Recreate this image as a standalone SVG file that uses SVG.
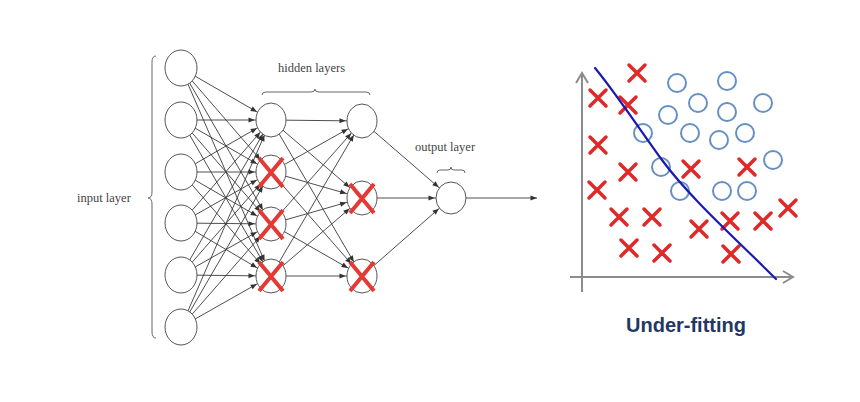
<svg xmlns="http://www.w3.org/2000/svg" width="860" height="402" viewBox="0 0 860 402">
<defs>
<marker id="ah" markerUnits="userSpaceOnUse" markerWidth="10" markerHeight="10" refX="0" refY="0" orient="auto" overflow="visible">
<path d="M-22.5,-2.6 L-16.3,0 L-22.5,2.6 Z" fill="#333"/>
</marker>
<marker id="ah0" markerUnits="userSpaceOnUse" markerWidth="10" markerHeight="10" refX="0" refY="0" orient="auto" overflow="visible">
<path d="M-6.5,-2.6 L0,0 L-6.5,2.6 Z" fill="#333"/>
</marker>
</defs>
<style>
.ln{stroke:#3a3a3a;stroke-width:0.9;fill:none;marker-end:url(#ah)}
.nd{fill:#fff;stroke:#555;stroke-width:1}
.x{stroke:#e53935;stroke-width:4;stroke-linecap:butt}
.lbl{font-family:"Liberation Serif",serif;font-size:12.5px;fill:#444}
.br{fill:none;stroke:#666;stroke-width:1}
.ax{stroke:#8c8c8c;stroke-width:2;fill:none}
.o{fill:none;stroke:#6690c4;stroke-width:2}
.rx{stroke:#e02828;stroke-width:3.5;stroke-linecap:round}
</style>
<rect width="860" height="402" fill="#fff"/>
<g id="connectors">
<!-- input to hidden1 -->
<line class="ln" x1="181" y1="68" x2="271" y2="120"/>
<line class="ln" x1="181" y1="68" x2="271" y2="172"/>
<line class="ln" x1="181" y1="68" x2="271" y2="224"/>
<line class="ln" x1="181" y1="68" x2="271" y2="276"/>
<line class="ln" x1="181" y1="120" x2="271" y2="120"/>
<line class="ln" x1="181" y1="120" x2="271" y2="172"/>
<line class="ln" x1="181" y1="120" x2="271" y2="224"/>
<line class="ln" x1="181" y1="120" x2="271" y2="276"/>
<line class="ln" x1="181" y1="172" x2="271" y2="120"/>
<line class="ln" x1="181" y1="172" x2="271" y2="172"/>
<line class="ln" x1="181" y1="172" x2="271" y2="224"/>
<line class="ln" x1="181" y1="172" x2="271" y2="276"/>
<line class="ln" x1="181" y1="223" x2="271" y2="120"/>
<line class="ln" x1="181" y1="223" x2="271" y2="172"/>
<line class="ln" x1="181" y1="223" x2="271" y2="224"/>
<line class="ln" x1="181" y1="223" x2="271" y2="276"/>
<line class="ln" x1="181" y1="275" x2="271" y2="120"/>
<line class="ln" x1="181" y1="275" x2="271" y2="172"/>
<line class="ln" x1="181" y1="275" x2="271" y2="224"/>
<line class="ln" x1="181" y1="275" x2="271" y2="276"/>
<line class="ln" x1="181" y1="327" x2="271" y2="120"/>
<line class="ln" x1="181" y1="327" x2="271" y2="172"/>
<line class="ln" x1="181" y1="327" x2="271" y2="224"/>
<line class="ln" x1="181" y1="327" x2="271" y2="276"/>
<!-- hidden1 to hidden2 -->
<line class="ln" x1="271" y1="120" x2="362" y2="121"/>
<line class="ln" x1="271" y1="120" x2="362" y2="198"/>
<line class="ln" x1="271" y1="120" x2="362" y2="276"/>
<line class="ln" x1="271" y1="172" x2="362" y2="121"/>
<line class="ln" x1="271" y1="172" x2="362" y2="198"/>
<line class="ln" x1="271" y1="172" x2="362" y2="276"/>
<line class="ln" x1="271" y1="224" x2="362" y2="121"/>
<line class="ln" x1="271" y1="224" x2="362" y2="198"/>
<line class="ln" x1="271" y1="224" x2="362" y2="276"/>
<line class="ln" x1="271" y1="276" x2="362" y2="121"/>
<line class="ln" x1="271" y1="276" x2="362" y2="198"/>
<line class="ln" x1="271" y1="276" x2="362" y2="276"/>
<!-- hidden2 to output -->
<line class="ln" x1="362" y1="121" x2="451" y2="198"/>
<line class="ln" x1="362" y1="198" x2="451" y2="198"/>
<line class="ln" x1="362" y1="276" x2="451" y2="198"/>
<!-- output arrow -->
<line x1="466" y1="198" x2="537" y2="198" stroke="#3a3a3a" stroke-width="0.9" marker-end="url(#ah0)"/>
</g>
<g id="input-layer">
<ellipse id="in1" class="nd" cx="181" cy="68" rx="16" ry="18"/>
<ellipse id="in2" class="nd" cx="181" cy="120" rx="16" ry="18"/>
<ellipse id="in3" class="nd" cx="181" cy="172" rx="16" ry="18"/>
<ellipse id="in4" class="nd" cx="181" cy="223" rx="16" ry="18"/>
<ellipse id="in5" class="nd" cx="181" cy="275" rx="16" ry="18"/>
<ellipse id="in6" class="nd" cx="181" cy="327" rx="16" ry="18"/>
</g>
<g id="hidden-layer-1">
<ellipse id="h1a" class="nd" cx="271" cy="120" rx="15" ry="17"/>
<g id="h1b"><ellipse class="nd" cx="271" cy="172" rx="15" ry="17"/><path class="x" d="M259,158 L283,187 M283,158 L259,187"/></g>
<g id="h1c"><ellipse class="nd" cx="271" cy="224" rx="15" ry="17"/><path class="x" d="M259,210 L283,239 M283,210 L259,239"/></g>
<g id="h1d"><ellipse class="nd" cx="271" cy="276" rx="15" ry="17"/><path class="x" d="M259,262 L283,291 M283,262 L259,291"/></g>
</g>
<g id="hidden-layer-2">
<ellipse id="h2a" class="nd" cx="362" cy="121" rx="15" ry="17"/>
<g id="h2b"><ellipse class="nd" cx="362" cy="198" rx="15" ry="17"/><path class="x" d="M350,184 L374,213 M374,184 L350,213"/></g>
<g id="h2c"><ellipse class="nd" cx="362" cy="276" rx="15" ry="17"/><path class="x" d="M350,262 L374,291 M374,262 L350,291"/></g>
</g>
<g id="output-layer">
<ellipse id="out" class="nd" cx="451" cy="198" rx="15" ry="16"/>
</g>
<g id="labels">
<text class="lbl" x="77" y="202">input layer</text>
<path class="br" d="M156,56 Q152,56 152,62 L152,192 Q152,198 148,198 Q152,198 152,204 L152,332 Q152,338 156,338"/>
<text class="lbl" x="278" y="72">hidden layers</text>
<path class="br" d="M262,95 Q262,92 266,92 L311,92 Q315,92 315,89 Q315,92 319,92 L366,92 Q370,92 370,95"/>
<text class="lbl" x="415" y="151">output layer</text>
<path class="br" d="M437,173 Q437,170 440,170 L448,170 Q451,170 451,167 Q451,170 454,170 L462,170 Q465,170 465,173"/>
</g>
<g id="plot">
<path class="ax" d="M582,292 L582,74 M576,83 L582,73 L588,83"/>
<path class="ax" d="M570,277 L792,277 M783,271 L793,277 L783,283"/>
<g id="circles">
<circle class="o" cx="677" cy="83" r="9"/>
<circle class="o" cx="727" cy="81" r="9"/>
<circle class="o" cx="698" cy="103" r="9"/>
<circle class="o" cx="668" cy="115" r="9"/>
<circle class="o" cx="727" cy="112" r="9"/>
<circle class="o" cx="763" cy="103" r="9"/>
<circle class="o" cx="643" cy="133" r="9"/>
<circle class="o" cx="690" cy="133" r="9"/>
<circle class="o" cx="719" cy="140" r="9"/>
<circle class="o" cx="745" cy="133" r="9"/>
<circle class="o" cx="661" cy="167" r="9"/>
<circle class="o" cx="773" cy="160" r="9"/>
<circle class="o" cx="680" cy="191" r="9"/>
<circle class="o" cx="722" cy="191" r="9"/>
<circle class="o" cx="747" cy="191" r="9"/>
</g>
<g id="crosses">
<path class="rx" d="M629,65 L645,81 M645,65 L629,81"/>
<path class="rx" d="M590,90 L606,106 M606,90 L590,106"/>
<path class="rx" d="M620,97 L636,113 M636,97 L620,113"/>
<path class="rx" d="M590,137 L606,153 M606,137 L590,153"/>
<path class="rx" d="M620,164 L636,180 M636,164 L620,180"/>
<path class="rx" d="M589,182 L605,198 M605,182 L589,198"/>
<path class="rx" d="M683,161 L699,177 M699,161 L683,177"/>
<path class="rx" d="M739,159 L755,175 M755,159 L739,175"/>
<path class="rx" d="M611,209 L627,225 M627,209 L611,225"/>
<path class="rx" d="M644,209 L660,225 M660,209 L644,225"/>
<path class="rx" d="M621,240 L637,256 M637,240 L621,256"/>
<path class="rx" d="M654,245 L670,261 M670,245 L654,261"/>
<path class="rx" d="M691,221 L707,237 M707,221 L691,237"/>
<path class="rx" d="M722,213 L738,229 M738,213 L722,229"/>
<path class="rx" d="M755,213 L771,229 M771,213 L755,229"/>
<path class="rx" d="M780,200 L796,216 M796,200 L780,216"/>
<path class="rx" d="M723,246 L739,262 M739,246 L723,262"/>
</g>
<path id="fit-line" d="M595,68 C615,92 640,130 662,160 C690,198 735,238 776,279" fill="none" stroke="#1a1ab0" stroke-width="2.2" stroke-linecap="round"/>
<text x="686" y="332" text-anchor="middle" font-family="'Liberation Sans',Arial,sans-serif" font-weight="bold" font-size="20" fill="#1f3864">Under-fitting</text>
</g>
</svg>
